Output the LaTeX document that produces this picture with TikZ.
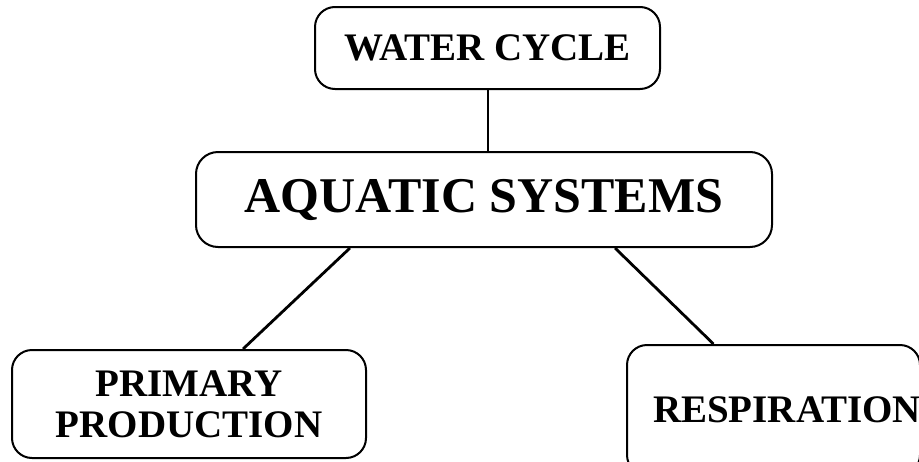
\documentclass[tikz,border=0pt]{standalone}
\usepackage{fontspec}
\setmainfont{Liberation Serif}
\usetikzlibrary{shapes.geometric, positioning, calc}
\tikzstyle{topic} = [rectangle, rounded corners=20pt, draw=black, line width=2pt, text centered, font=\bfseries\fontsize{39}{41}\selectfont]
\tikzstyle{hub} = [topic, rounded corners=22pt, font=\bfseries\fontsize{50}{52}\selectfont]
\tikzstyle{link} = [line width=2.8pt]
\begin{document}
\begin{tikzpicture}[x=1pt, y=-1pt]
\useasboundingbox (0,0) rectangle (919,461);

\node (water) [topic, minimum width=345pt, minimum height=82pt] at (487.5,48) {WATER CYCLE};
\node (aquatic) [hub, minimum width=576pt, minimum height=95pt] at (484,199.5) {AQUATIC SYSTEMS};
\node (primary) [topic, minimum width=354pt, minimum height=108pt, align=center] at (189,404) {PRIMARY\\PRODUCTION};
\node (respiration) [topic, minimum width=293pt, minimum height=130pt, inner xsep=26pt, text width=241pt, align=left] at (773.5,410) {RESPIRATION};

% Links
\draw [line width=2pt] (water.south) -- (water.south |- aquatic.north);
\draw [link] ([xshift=-134pt]aquatic.south) -- ([xshift=54pt]primary.north);
\draw [link] ([xshift=131pt]aquatic.south) -- ([xshift=-60pt]respiration.north);

\end{tikzpicture}
\end{document}
